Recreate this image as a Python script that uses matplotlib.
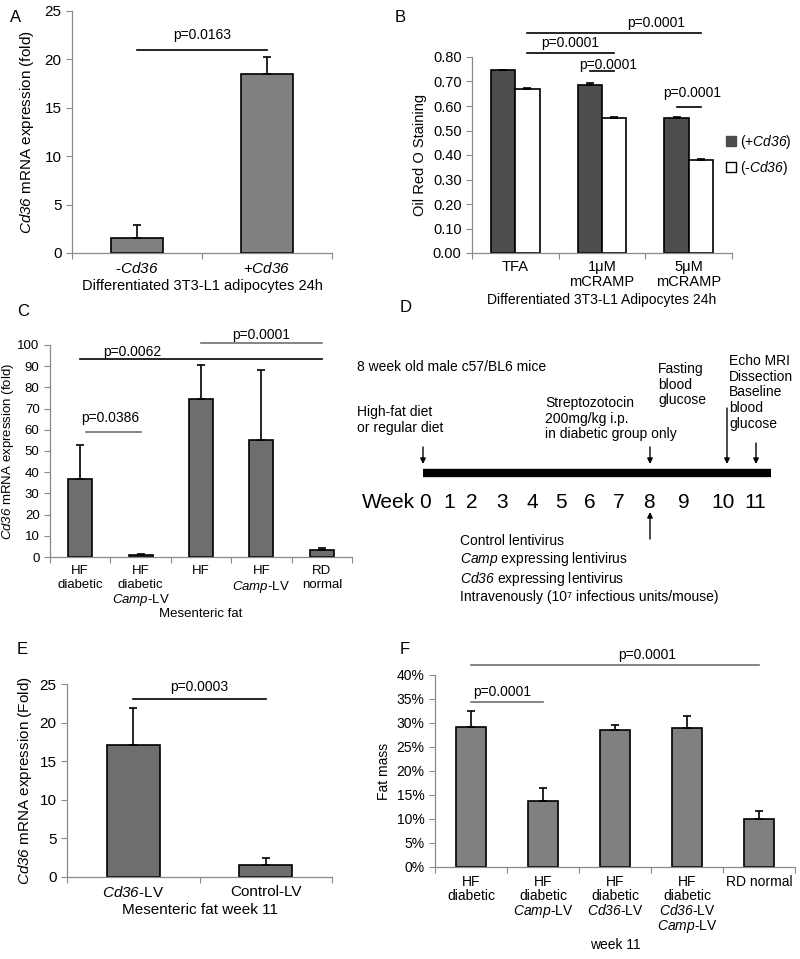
import numpy as np
import matplotlib
matplotlib.use('Agg')
import matplotlib.pyplot as plt
from matplotlib.patches import Patch
from matplotlib.ticker import FixedLocator, FuncFormatter

plt.rcParams['font.family'] = ['Liberation Sans', 'DejaVu Sans']
# math is only used for italic gene names, so make every math font italic
# (digits inside \mathit fall back to the rm font)
plt.rcParams['mathtext.fontset'] = 'custom'
plt.rcParams['mathtext.rm'] = 'Liberation Sans:italic'
plt.rcParams['mathtext.it'] = 'Liberation Sans:italic'
plt.rcParams['font.size'] = 10

# ---- data ----
a_labels = [r'-$\mathit{Cd36}$', r'+$\mathit{Cd36}$']
a_vals = [1.6, 18.5]
a_err = [1.3, 1.7]

b_labels = ['TFA', '1\u03bcM\nmCRAMP', '5\u03bcM\nmCRAMP']
b_plus = [0.745, 0.686, 0.553]
b_plus_err = [0.003, 0.006, 0.004]
b_minus = [0.671, 0.553, 0.381]
b_minus_err = [0.001, 0.002, 0.003]

c_labels = ['HF\ndiabetic', 'HF\ndiabetic\n$\\mathit{Camp}$-LV', 'HF',
            'HF\n$\\mathit{Camp}$-LV', 'RD\nnormal']
c_vals = [37, 0.8, 74.5, 55, 3.5]
c_err = [16, 0.4, 16, 33, 0.8]

e_labels = [r'$\mathit{Cd36}$-LV', 'Control-LV']
e_vals = [17.1, 1.5]
e_err = [4.8, 0.9]

f_labels = ['HF\ndiabetic', 'HF\ndiabetic\n$\\mathit{Camp}$-LV',
            'HF\ndiabetic\n$\\mathit{Cd36}$-LV',
            'HF\ndiabetic\n$\\mathit{Cd36}$-LV\n$\\mathit{Camp}$-LV', 'RD normal']
f_vals = [0.291, 0.138, 0.285, 0.290, 0.101]
f_err = [0.033, 0.027, 0.011, 0.025, 0.016]

weeks = list(range(12))
week_x = [85, 109, 132, 162, 192, 221, 250, 279, 309, 344, 383, 415]  # drawn label spots

W, H = 800, 959
fig = plt.figure(figsize=(8, 9.59), dpi=100)


def px_axes(l, t, r, b):
    return fig.add_axes([l / W, 1 - b / H, (r - l) / W, (b - t) / H])


def excel_style(ax, n, labels, ymax, yticks, fmt=None, tick_fs=10, xls=1.2, pad=6):
    ax.set_xlim(0, n)
    ax.set_ylim(0, ymax)
    for s in ['top', 'right']:
        ax.spines[s].set_visible(False)
    for s in ['left', 'bottom']:
        ax.spines[s].set_color('#8a8a8a')
        ax.spines[s].set_linewidth(0.9)
    ax.xaxis.set_major_locator(FixedLocator(np.arange(n + 1)))
    ax.xaxis.set_major_formatter(FuncFormatter(lambda v, p: ''))
    ax.set_xticks(np.arange(n) + 0.5, labels, minor=True)
    ax.tick_params(axis='x', which='major', length=4, color='#8a8a8a')
    ax.tick_params(axis='x', which='minor', length=0, pad=pad, labelsize=tick_fs)
    plt.setp(ax.get_xticklabels(minor=True), linespacing=xls)
    ax.set_yticks(yticks)
    if fmt:
        ax.yaxis.set_major_formatter(FuncFormatter(fmt))
    ax.tick_params(axis='y', length=4, color='#8a8a8a', labelsize=tick_fs)


def pline(ax, x0, x1, y, txt, tx, ty, color='black'):
    ax.plot([x0, x1], [y, y], color=color, lw=1.2, clip_on=False)
    ax.text(tx, ty, txt, ha='center', va='center', fontsize=10, clip_on=False)


def bars(ax, vals, err, color, width=0.4, offset=0.0):
    x = np.arange(len(vals)) + 0.5 + offset
    ax.bar(x, vals, width=width, color=color, edgecolor='black', linewidth=1.2,
           yerr=[np.zeros(len(err)), err], capsize=3,
           error_kw=dict(elinewidth=1.2, capthick=1.2, ecolor='black'))


# ---- A ----
axA = px_axes(72, 11, 332, 253)
bars(axA, a_vals, a_err, '#808080')
excel_style(axA, 2, a_labels, 25, [0, 5, 10, 15, 20, 25], tick_fs=11)
pline(axA, 0.5, 1.5, 21, 'p=0.0163', 1.0, 22.5)
axA.set_ylabel(r'$\mathit{Cd36}$ mRNA expression (fold)', fontsize=11, labelpad=6)
axA.set_xlabel('Differentiated 3T3-L1 adipocytes 24h', fontsize=10.5, labelpad=2)

# ---- B ----
axB = px_axes(472, 57, 732, 253)
bars(axB, b_plus, b_plus_err, '#4d4d4d', width=0.28, offset=-0.14)
bars(axB, b_minus, b_minus_err, 'white', width=0.28, offset=0.14)
excel_style(axB, 3, b_labels, 0.8, np.arange(0, 0.81, 0.1),
            fmt=lambda v, p: f'{v:.2f}', tick_fs=10.5, xls=1.1, pad=5)
pline(axB, 0.64, 2.64, 0.898, 'p=0.0001', 2.13, 0.939)
pline(axB, 0.64, 1.64, 0.816, 'p=0.0001', 1.13, 0.857)
pline(axB, 1.36, 1.64, 0.743, 'p=0.0001', 1.57, 0.767)
pline(axB, 2.36, 2.64, 0.596, 'p=0.0001', 2.54, 0.653)
axB.set_ylabel('Oil Red O Staining', fontsize=10.5)
axB.set_xlabel('Differentiated 3T3-L1 Adipocytes 24h', fontsize=10, labelpad=3)
axB.legend(handles=[Patch(facecolor='#4d4d4d', edgecolor='#4d4d4d'),
                    Patch(facecolor='white', edgecolor='black')],
           labels=[r'(+$\mathit{Cd36}$)', r'(-$\mathit{Cd36}$)'],
           loc='center left', bbox_to_anchor=(0.93, 0.5), frameon=False,
           handlelength=0.7, handleheight=0.7, handletextpad=0.3,
           labelspacing=0.6, fontsize=10)

# ---- C ----
axC = px_axes(50, 345, 352, 557)
bars(axC, c_vals, c_err, '#6e6e6e')
excel_style(axC, 5, c_labels, 100, np.arange(0, 101, 10), tick_fs=9.5, xls=1.15, pad=6)
pline(axC, 2.5, 4.5, 101, 'p=0.0001', 3.5, 104.7, color='#707070')
pline(axC, 0.5, 4.5, 93.4, 'p=0.0062', 1.37, 96.9)
pline(axC, 0.6, 1.5, 59, 'p=0.0386', 1.0, 65.6, color='#707070')
axC.set_ylabel(r'$\mathit{Cd36}$ mRNA expression (fold)', fontsize=9.5, labelpad=1)
axC.set_xlabel('Mesenteric fat', fontsize=9.5, labelpad=0)

# ---- D (timeline schematic, panel-local pixel units) ----
axD = px_axes(340, 320, 800, 600)
axD.set_xlim(0, 460)
axD.set_ylim(280, 0)
axD.axis('off')
axD.plot([week_x[0] - 2, 431], [153, 153], color='black', lw=6, solid_capstyle='butt')
axD.text(75, 183, 'Week', ha='right', va='center', fontsize=15)
for w, x in zip(weeks, week_x):
    axD.text(x, 183, str(w), ha='center', va='center', fontsize=15)
arrow = dict(arrowstyle='-|>', color='black', lw=1, mutation_scale=8, shrinkA=0, shrinkB=0)
for w, y0 in [(0, 127), (8, 127), (10, 88), (11, 123)]:
    x = week_x[w] - 2 if w == 0 else week_x[w] + (4 if w == 10 else 1)
    axD.annotate('', xy=(x, 144), xytext=(x, y0), arrowprops=arrow)
axD.annotate('', xy=(week_x[8] + 1, 192), xytext=(week_x[8] + 1, 219), arrowprops=arrow)
ls = 1.15
axD.text(17, 47, '8 week old male c57/BL6 mice', va='center', fontsize=10)
axD.text(17, 85, 'High-fat diet\nor regular diet', va='top', fontsize=10, linespacing=ls)
axD.text(205, 76, 'Streptozotocin\n200mg/kg i.p.\nin diabetic group only',
         va='top', fontsize=10, linespacing=ls)
axD.text(318, 42, 'Fasting\nblood\nglucose', va='top', fontsize=10, linespacing=ls)
axD.text(389, 34, 'Echo MRI\nDissection\nBaseline\nblood\nglucose',
         va='top', fontsize=10, linespacing=ls)
axD.text(120, 214, 'Control lentivirus\n$\\mathit{Camp}$ expressing lentivirus\n'
         '$\\mathit{Cd36}$ expressing lentivirus\n'
         'Intravenously (10\u2077 infectious units/mouse)',
         va='top', fontsize=10, linespacing=ls)

# ---- E ----
axE = px_axes(67, 684, 332, 877)
bars(axE, e_vals, e_err, '#6e6e6e')
excel_style(axE, 2, e_labels, 25, [0, 5, 10, 15, 20, 25], tick_fs=11)
pline(axE, 0.5, 1.5, 23, 'p=0.0003', 1.0, 24.6)
axE.set_ylabel(r'$\mathit{Cd36}$ mRNA expression (Fold)', fontsize=11, labelpad=4)
axE.set_xlabel('Mesenteric fat week 11', fontsize=11, labelpad=2)

# ---- F ----
axF = px_axes(435, 675, 795, 867)
bars(axF, f_vals, f_err, '#808080', width=0.41)
excel_style(axF, 5, f_labels, 0.4, np.arange(0, 0.401, 0.05),
            fmt=lambda v, p: f'{v * 100:.0f}%', xls=1.0)
pline(axF, 0.5, 4.5, 0.421, 'p=0.0001', 2.95, 0.442, color='#707070')
pline(axF, 0.5, 1.5, 0.344, 'p=0.0001', 0.93, 0.365, color='#707070')
axF.set_ylabel('Fat mass', fontsize=10)
axF.set_xlabel('week 11', fontsize=10, labelpad=2)

# panel letters
for lab, x, y in [('A', 10, 17), ('B', 395, 17), ('C', 17, 312), ('D', 400, 308),
                  ('E', 17, 650), ('F', 400, 650)]:
    fig.text(x / W, 1 - y / H, lab, fontsize=12, va='center', ha='left')

fig.savefig('out.png', dpi=100)
